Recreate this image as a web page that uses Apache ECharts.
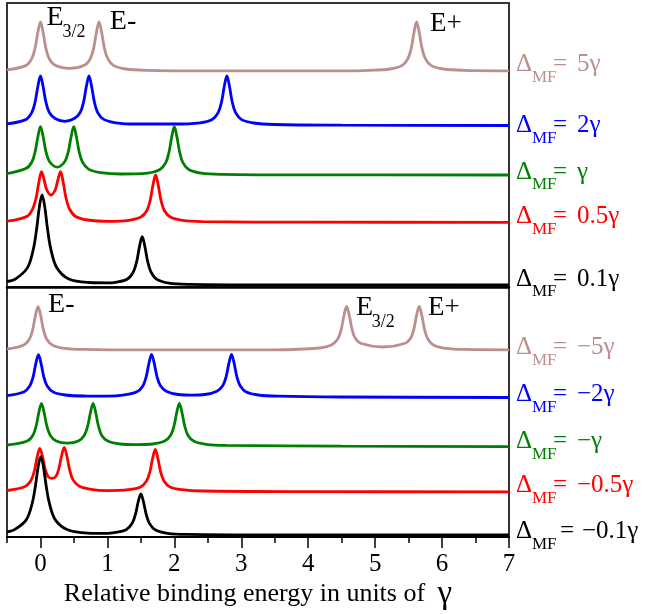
<!DOCTYPE html>
<html>
<head>
<meta charset="utf-8">
<script src="https://cdn.jsdelivr.net/npm/echarts@6/dist/echarts.min.js"></script>
<style>html,body{margin:0;padding:0;background:#fff}#main{width:648px;height:614px}</style>
</head>
<body>
<div id="main"></div>
<script>
// x ticks
const xTicks = [0, 1, 2, 3, 4, 5, 6, 7];
const xMinorTicks = [-0.5, 0.5, 1.5, 2.5, 3.5, 4.5, 5.5, 6.5];

// Upper panel (Delta_MF > 0), arbitrary intensity units with vertical offsets
const topBrown = [[-0.5,217.2],[-0.22,221.4],[-0.13,228.3],[-0.08,239.0],[-0.04,254.2],[0,265.1],[0.04,254.3],[0.08,239.1],[0.13,228.4],[0.22,221.7],[0.44,218.6],[0.655,221.7],[0.745,228.4],[0.795,239.1],[0.835,254.3],[0.875,265.1],[0.915,254.2],[0.955,239.0],[1.005,228.3],[1.095,221.4],[1.275,218.0],[1.575,216.7],[2.5,216.2],[4.5,216.2],[4.92,216.7],[5.22,218.0],[5.40,221.4],[5.49,228.3],[5.54,239.0],[5.58,254.2],[5.62,265.0],[5.66,254.2],[5.70,239.0],[5.75,228.3],[5.84,221.4],[6.02,218.0],[6.32,216.7],[7,216.2]];
const topBlue = [[-0.5,163.2],[-0.22,167.4],[-0.13,174.3],[-0.08,185.0],[-0.04,200.2],[0,211.1],[0.04,200.4],[0.08,185.3],[0.13,174.8],[0.22,168.5],[0.3625,165.6],[0.505,168.5],[0.595,174.8],[0.645,185.3],[0.685,200.4],[0.725,211.1],[0.765,200.3],[0.805,185.1],[0.855,174.4],[0.945,167.6],[1.125,164.2],[1.425,163.0],[2.0,163.0],[2.385,164.2],[2.565,167.5],[2.655,174.3],[2.705,185.0],[2.745,200.2],[2.785,211.0],[2.825,200.2],[2.865,185.0],[2.915,174.3],[3.005,167.4],[3.185,164.0],[3.485,162.5],[4.5,161.8],[7,161.5]];
const topGreen = [[-0.5,113.3],[-0.22,118.4],[-0.13,124.8],[-0.08,135.2],[-0.04,149.8],[0,160.3],[0.04,150.3],[0.08,135.9],[0.13,125.8],[0.2,121.0],[0.25,119.8],[0.3,121.0],[0.368,125.8],[0.418,135.9],[0.458,150.3],[0.498,160.3],[0.538,149.8],[0.578,135.2],[0.628,124.8],[0.718,117.9],[0.898,114.4],[1.2,113.0],[1.6,113.9],[1.78,117.3],[1.87,124.1],[1.92,134.7],[1.96,149.7],[2.0,160.3],[2.04,149.7],[2.08,134.7],[2.13,124.1],[2.22,117.3],[2.4,113.9],[2.7,112.7],[4,112.1],[7,112.0]];
const topRed = [[-0.5,65.8],[-0.205,70.6],[-0.115,78.3],[-0.065,89.1],[-0.025,104.2],[0.015,115.3],[0.055,107.0],[0.095,97.0],[0.1575,92.0],[0.22,97.0],[0.26,107.0],[0.3,115.3],[0.34,104.5],[0.38,89.5],[0.43,78.5],[0.52,70.8],[0.7,67.0],[1.02,65.6],[1.32,66.6],[1.5,69.9],[1.59,76.5],[1.64,86.9],[1.68,101.6],[1.72,112.0],[1.76,101.6],[1.8,86.9],[1.85,76.5],[1.94,69.9],[2.12,66.6],[2.42,65.4],[4,64.8],[7,64.7]];
const topBlack = [[-0.5,5.5],[-0.376,7.9],[-0.196,19.1],[-0.106,38.0],[-0.056,58.7],[-0.016,80.3],[0.024,92.0],[0.064,80.3],[0.104,58.7],[0.154,38.1],[0.244,19.2],[0.424,8.0],[0.724,4.5],[1.0,4.1],[1.12,4.7],[1.3,8.0],[1.39,15.4],[1.44,26.2],[1.48,40.6],[1.52,50.3],[1.56,40.4],[1.6,26.0],[1.65,15.2],[1.74,7.6],[1.92,3.8],[2.22,2.6],[3.5,2.1],[7,2.0]];

// Lower panel (Delta_MF < 0)
const botBrown = [[-0.5,188.0],[-0.256,191.8],[-0.166,197.8],[-0.116,207.4],[-0.076,221.1],[-0.036,230.3],[0.004,221.1],[0.044,207.4],[0.094,197.8],[0.184,191.8],[0.364,188.7],[0.664,187.6],[1.5,187.1],[3.5,187.2],[4.174,189.0],[4.354,192.2],[4.444,198.2],[4.494,207.8],[4.534,221.5],[4.574,230.5],[4.614,221.6],[4.654,208.1],[4.704,198.7],[4.794,193.5],[5.117,190.0],[5.439,193.5],[5.529,198.7],[5.579,208.1],[5.619,221.6],[5.659,230.5],[5.699,221.1],[5.739,207.4],[5.789,197.8],[5.879,191.8],[6.059,188.7],[6.359,187.6],[7,187.2]];
const botBlue = [[-0.5,141.3],[-0.25,145.0],[-0.16,150.9],[-0.11,160.1],[-0.07,173.2],[-0.03,182.4],[0.01,173.2],[0.05,160.1],[0.1,150.9],[0.19,145.0],[0.37,142.0],[0.67,141.0],[1.0,140.9],[1.26,142.2],[1.44,145.2],[1.53,151.1],[1.58,160.3],[1.62,173.5],[1.66,182.6],[1.7,173.6],[1.74,160.6],[1.79,151.5],[1.88,145.8],[2.06,142.5],[2.2575,141.9],[2.455,142.5],[2.635,145.8],[2.725,151.5],[2.775,160.6],[2.815,173.6],[2.855,182.6],[2.895,173.2],[2.935,160.1],[2.985,150.9],[3.075,145.0],[3.255,142.0],[3.555,140.8],[4.5,140.0],[7,139.5]];
const botGreen = [[-0.5,92.0],[-0.205,95.7],[-0.115,101.6],[-0.065,111.0],[-0.025,124.2],[0.015,133.7],[0.055,124.3],[0.095,111.2],[0.145,101.8],[0.235,96.0],[0.4,93.9],[0.566,96.0],[0.656,101.8],[0.706,111.2],[0.746,124.3],[0.786,133.7],[0.826,124.2],[0.866,111.0],[0.916,101.6],[1.006,95.9],[1.186,93.0],[1.43,92.4],[1.675,93.0],[1.855,95.9],[1.945,101.7],[1.995,111.0],[2.035,124.2],[2.075,133.7],[2.115,124.2],[2.155,111.0],[2.205,101.6],[2.295,95.7],[2.475,92.7],[2.775,91.6],[4.5,90.8],[7,90.3]];
const botRed = [[-0.5,46.5],[-0.23,50.5],[-0.14,56.7],[-0.09,66.5],[-0.05,79.8],[-0.01,88.7],[0.03,80.5],[0.07,68.0],[0.1125,60.5],[0.1725,58.7],[0.2325,60.8],[0.275,68.5],[0.315,81.0],[0.355,89.7],[0.395,80.8],[0.435,67.3],[0.485,57.4],[0.575,51.0],[0.755,47.6],[1.0,46.4],[1.315,47.3],[1.495,50.0],[1.585,55.9],[1.635,65.2],[1.675,78.4],[1.715,87.7],[1.755,78.4],[1.795,65.2],[1.845,55.9],[1.935,50.0],[2.115,47.3],[2.415,46.0],[4,45.4],[7,45.2]];
const botBlack = [[-0.5,5.0],[-0.395,7.1],[-0.215,16.9],[-0.125,33.3],[-0.075,51.3],[-0.035,70.1],[0.005,80.3],[0.045,70.1],[0.085,51.3],[0.135,33.3],[0.225,16.9],[0.405,7.2],[0.705,3.9],[1.0,3.6],[1.1,4.3],[1.28,7.3],[1.37,13.7],[1.42,22.9],[1.46,35.1],[1.5,43.0],[1.54,34.9],[1.58,22.6],[1.63,13.4],[1.72,6.9],[1.9,3.7],[2.2,2.6],[3.5,2.1],[7,2.0]];

// Curve labels (value of Delta_MF)
const topValues = ['5γ', '2γ', 'γ', '0.5γ', '0.1γ'];
const botValues = ['−5γ', '−2γ', '−γ', '−0.5γ', '−0.1γ'];

const BROWN = '#bc8f8f', BLUE = '#0000ff', GREEN = '#008000', RED = '#ff0000', BLACK = '#000000';
const SERIF = '"Liberation Serif", "Times New Roman", serif';

const curves = [
  { data: topBrown, color: BROWN, panel: 0, value: topValues[0], dy: 6, eqX: 553, valX: 577 },
  { data: topBlue,  color: BLUE,  panel: 0, value: topValues[1], dy: 0, eqX: 553, valX: 577 },
  { data: topGreen, color: GREEN, panel: 0, value: topValues[2], dy: 3, eqX: 553, valX: 577 },
  { data: topRed,   color: RED,   panel: 0, value: topValues[3], dy: 6, eqX: 553, valX: 577 },
  { data: topBlack, color: BLACK, panel: 0, value: topValues[4], dy: 6, eqX: 553, valX: 577 },
  { data: botBrown, color: BROWN, panel: 1, value: botValues[0], dy: 2, eqX: 553, valX: 577 },
  { data: botBlue,  color: BLUE,  panel: 1, value: botValues[1], dy: 3, eqX: 553, valX: 577 },
  { data: botGreen, color: GREEN, panel: 1, value: botValues[2], dy: 5, eqX: 553, valX: 577 },
  { data: botRed,   color: RED,   panel: 1, value: botValues[3], dy: 6, eqX: 553, valX: 577 },
  { data: botBlack, color: BLACK, panel: 1, value: botValues[4], dy: 3.5, eqX: 560, valX: 582 }
];

// Peak annotations [panel, x, y(center), text, fontSize]
const peakLabels = [
  [0, 0.09, 269, 'E', 28], [0, 0.329, 255, '3/2', 18], [0, 1.036, 265, 'E-', 28], [0, 5.82, 263, 'E+', 27],
  [1, 0.114, 232.3, 'E-', 28], [1, 4.713, 229, 'E', 28], [1, 4.948, 214.5, '3/2', 18], [1, 5.789, 229.5, 'E+', 27]
];

const chart = echarts.init(document.getElementById('main'));

const option = {
  animation: false,
  grid: [
    { left: 7, top: 3, width: 502, height: 284, show: true, borderColor: '#333', borderWidth: 2, backgroundColor: 'transparent' },
    { left: 7, top: 287, width: 502, height: 250, show: true, borderColor: '#333', borderWidth: 2, backgroundColor: 'transparent' }
  ],
  xAxis: [
    { type: 'value', gridIndex: 0, min: -0.5, max: 7, interval: 0.5,
      axisLine: { show: true, lineStyle: { color: '#000', width: 2.5 } },
      axisTick: { show: false }, axisLabel: { show: false }, splitLine: { show: false } },
    { type: 'value', gridIndex: 1, min: -0.5, max: 7, interval: 0.5, position: 'bottom',
      axisLine: { show: true, lineStyle: { color: '#000', width: 2 } },
      axisTick: { show: true, customValues: xTicks, length: 11, lineStyle: { color: '#000', width: 1.5 } },
      axisLabel: { show: true, customValues: xTicks, margin: 15, color: '#000', fontFamily: SERIF, fontSize: 25 },
      splitLine: { show: false },
      name: '{a|Relative binding energy in units of }{g|γ}', nameLocation: 'middle', nameGap: 39,
      nameTextStyle: { rich: {
        a: { fontFamily: SERIF, fontSize: 26, color: '#000' },
        g: { fontFamily: SERIF, fontSize: 33, color: '#000', padding: [0, 0, 0, 6] }
      } } },
    { type: 'value', gridIndex: 1, min: -0.5, max: 7, interval: 0.5, position: 'bottom',
      axisLine: { show: false },
      axisTick: { show: true, customValues: xMinorTicks, length: 6, lineStyle: { color: '#000', width: 1.5 } },
      axisLabel: { show: false }, splitLine: { show: false } }
  ],
  yAxis: [
    { type: 'value', gridIndex: 0, min: 0, max: 284, show: false },
    { type: 'value', gridIndex: 1, min: 0, max: 250, show: false }
  ],
  series: curves.map(c => ({
    type: 'line', xAxisIndex: c.panel, yAxisIndex: c.panel, data: c.data,
    symbol: 'none', showSymbol: false, smooth: 0.35, z: 3,
    lineStyle: { color: c.color, width: 2.8 }, itemStyle: { color: c.color }
  }))
};
chart.setOption(option);

function txt(text, x, y, size, color) {
  return { type: 'text', z: 100, style: {
    text: text, x: x, y: y, fill: color, font: size + 'px ' + SERIF,
    align: 'left', verticalAlign: 'middle', textAlign: 'left', textVerticalAlign: 'middle' } };
}

const graphics = [];
const rightX = chart.convertToPixel({ gridIndex: 0 }, [7, 0])[0];
curves.forEach(c => {
  const last = c.data[c.data.length - 1];
  const py = chart.convertToPixel({ gridIndex: c.panel }, last)[1] - c.dy;
  graphics.push(txt('Δ', rightX + 7, py, 25, c.color));
  graphics.push(txt('MF', rightX + 23, py + 13, 17, c.color));
  graphics.push(txt('=', c.eqX, py, 25, c.color));
  graphics.push(txt(c.value, c.valX, py, 25, c.color));
});
peakLabels.forEach(l => {
  const p = chart.convertToPixel({ gridIndex: l[0] }, [l[1], l[2]]);
  graphics.push(txt(l[3], p[0], p[1], l[4], '#000'));
});
chart.setOption({ graphic: graphics });
</script>
</body>
</html>
